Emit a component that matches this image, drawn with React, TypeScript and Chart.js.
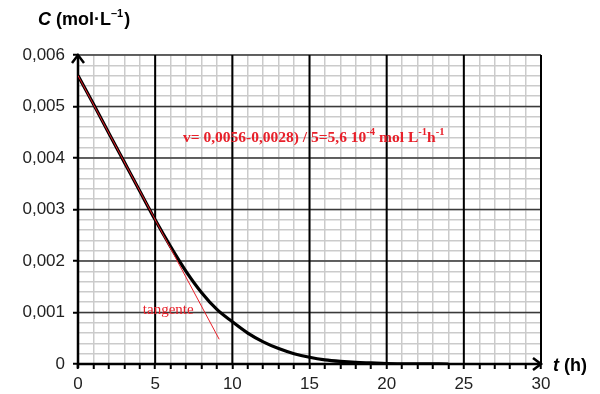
import React, { useEffect, useRef } from "react";
import { Chart, registerables } from "chart.js";

Chart.register(...registerables);

// Data
const times = [0, 1, 2, 3, 4, 5, 6, 7, 8, 9, 10, 11, 12, 13, 14, 15, 16, 17, 18, 19, 20, 22, 24];
const concentrations = [
  0.0056, 0.00505, 0.00448, 0.00392, 0.00336, 0.0028, 0.00228, 0.0018, 0.00139, 0.00106, 0.00082,
  0.0006, 0.00043, 0.0003, 0.0002, 0.00013, 0.00008, 0.00005, 0.00003, 0.00002, 0.00001, 0.000003, 0,
];
const tangentTimes = [0, 9.15];
const tangentValues = [0.0056, 0.00048];
const xTickLabels = ["0", "5", "10", "15", "20", "25", "30"];
const yTickLabels = ["0", "0,001", "0,002", "0,003", "0,004", "0,005", "0,006"];
const annotationText = "v= 0,0056-0,0028) / 5=5,6 10";
const tangentLabel = "tangente";

const RED = "#e8202a";
const SANS = "'Liberation Sans', Arial, sans-serif";
const SERIF = "'Liberation Serif', 'Times New Roman', serif";

const overlayPlugin = {
  id: "overlay",
  beforeDatasetsDraw(chart: any) {
    const { ctx, scales } = chart;
    const xs = scales.x;
    const ys = scales.y;
    const x0 = xs.getPixelForValue(0);
    const y0 = ys.getPixelForValue(0);
    const xEnd = xs.getPixelForValue(30);
    const yTop = ys.getPixelForValue(0.006);
    ctx.save();
    // major horizontal lines
    ctx.strokeStyle = "#3a3a3a";
    ctx.lineWidth = 1.5;
    ctx.beginPath();
    for (let k = 1; k <= 6; k++) {
      const y = ys.getPixelForValue(k * 0.001);
      ctx.moveTo(x0, y);
      ctx.lineTo(xEnd, y);
    }
    ctx.stroke();
    // major vertical lines
    ctx.strokeStyle = "#000";
    ctx.lineWidth = 2;
    ctx.beginPath();
    for (let k = 5; k <= 30; k += 5) {
      const x = xs.getPixelForValue(k);
      ctx.moveTo(x, y0);
      ctx.lineTo(x, yTop);
    }
    ctx.stroke();
    // axes
    ctx.strokeStyle = "#000";
    ctx.lineWidth = 2.5;
    ctx.lineCap = "butt";
    ctx.beginPath();
    ctx.moveTo(x0, y0);
    ctx.lineTo(xEnd, y0);
    ctx.moveTo(x0, y0 + 4);
    ctx.lineTo(x0, yTop);
    ctx.stroke();
    // arrows
    ctx.lineJoin = "miter";
    ctx.beginPath();
    ctx.moveTo(xEnd - 8, y0 - 6);
    ctx.lineTo(xEnd, y0);
    ctx.lineTo(xEnd - 8, y0 + 6);
    ctx.moveTo(x0 - 6, yTop + 8);
    ctx.lineTo(x0, yTop);
    ctx.lineTo(x0 + 6, yTop + 8);
    ctx.stroke();
    ctx.restore();
  },
  afterDraw(chart: any) {
    const { ctx, scales } = chart;
    ctx.save();
    // Y axis title
    ctx.fillStyle = "#000";
    ctx.textBaseline = "alphabetic";
    ctx.textAlign = "left";
    let x = 38;
    const yb = 25;
    ctx.font = `italic bold 18px ${SANS}`;
    ctx.fillText("C", x, yb);
    x += ctx.measureText("C").width + 5;
    ctx.font = `bold 18px ${SANS}`;
    ctx.fillText("(mol·L", x, yb);
    x += ctx.measureText("(mol·L").width;
    ctx.font = `bold 11px ${SANS}`;
    ctx.fillText("–1", x, yb - 8);
    x += ctx.measureText("–1").width + 1;
    ctx.font = `bold 18px ${SANS}`;
    ctx.fillText(")", x, yb);

    // X axis title
    let tx = 553;
    const tb = 371;
    ctx.font = `italic bold 18px ${SANS}`;
    ctx.fillText("t", tx, tb);
    tx += ctx.measureText("t").width + 5;
    ctx.font = `bold 18px ${SANS}`;
    ctx.fillText("(h)", tx, tb);

    // annotation
    ctx.fillStyle = RED;
    let ax = scales.x.getPixelForValue(6.8);
    const ab = scales.y.getPixelForValue(0.00432);
    ctx.font = `bold 15.5px ${SERIF}`;
    ctx.fillText(annotationText, ax, ab);
    ax += ctx.measureText(annotationText).width;
    ctx.font = `bold 10.5px ${SERIF}`;
    ctx.fillText("-4", ax, ab - 7);
    ax += ctx.measureText("-4").width + 4;
    ctx.font = `bold 15.5px ${SERIF}`;
    ctx.fillText("mol L", ax, ab);
    ax += ctx.measureText("mol L").width;
    ctx.font = `bold 10.5px ${SERIF}`;
    ctx.fillText("-1", ax, ab - 7);
    ax += ctx.measureText("-1").width;
    ctx.font = `bold 15.5px ${SERIF}`;
    ctx.fillText("h", ax, ab);
    ax += ctx.measureText("h").width;
    ctx.font = `bold 10.5px ${SERIF}`;
    ctx.fillText("-1", ax, ab - 7);

    // tangente label
    ctx.font = `15px ${SERIF}`;
    ctx.fillText(tangentLabel, scales.x.getPixelForValue(4.2), scales.y.getPixelForValue(0.00097));
    ctx.restore();
  },
};

export default function App() {
  const canvasRef = useRef<HTMLCanvasElement | null>(null);

  useEffect(() => {
    document.body.style.margin = "0";
    const canvas = canvasRef.current;
    if (!canvas) return;
    const chart = new Chart(canvas, {
      type: "line",
      data: {
        datasets: [
          {
            label: "tangente",
            data: tangentTimes.map((t, i) => ({ x: t, y: tangentValues[i] })),
            borderColor: RED,
            borderWidth: 1,
            pointRadius: 0,
            tension: 0,
            order: 0,
          },
          {
            label: "C",
            data: times.map((t, i) => ({ x: t, y: concentrations[i] })),
            borderColor: "#000",
            borderWidth: 3.2,
            pointRadius: 0,
            cubicInterpolationMode: "monotone",
            order: 1,
          },
        ],
      },
      options: {
        animation: false,
        responsive: false,
        maintainAspectRatio: false,
        layout: { padding: { top: 55, right: 59, left: 0, bottom: 0 } },
        plugins: { legend: { display: false }, tooltip: { enabled: false } },
        scales: {
          x: {
            type: "linear",
            min: 0,
            max: 30,
            afterFit: (s: any) => {
              s.height = 30;
            },
            border: { display: false },
            ticks: {
              stepSize: 1,
              autoSkip: false,
              maxRotation: 0,
              padding: 5,
              color: "#222",
              font: { family: SANS, size: 17 },
              callback: (v: any) => {
                const n = Math.round(Number(v));
                return n % 5 === 0 ? xTickLabels[n / 5] : "";
              },
            },
            grid: {
              drawTicks: true,
              tickLength: 5,
              tickColor: "#000",
              tickWidth: 2,
              color: "#cbcbcb",
              lineWidth: 1.5,
            },
          },
          y: {
            type: "linear",
            min: 0,
            max: 0.006,
            afterFit: (s: any) => {
              s.width = 78;
            },
            border: { display: false },
            ticks: {
              stepSize: 0.0002,
              autoSkip: false,
              padding: 8,
              color: "#222",
              font: { family: SANS, size: 17 },
              callback: (v: any) => {
                const k = Math.round(Number(v) / 0.0002);
                return k % 5 === 0 ? yTickLabels[k / 5] : "";
              },
            },
            grid: {
              drawTicks: true,
              tickLength: 5,
              tickWidth: 2,
              tickColor: (c: any) => {
                const k = Math.round((c.tick?.value ?? 0) / 0.0002);
                return k % 5 === 0 ? "#000" : "rgba(0,0,0,0)";
              },
              color: "#cbcbcb",
              lineWidth: 1.5,
            },
          },
        },
      },
      plugins: [overlayPlugin],
    } as any);
    return () => chart.destroy();
  }, []);

  return (
    <div style={{ position: "absolute", left: 0, top: 0, width: 600, height: 394, background: "#fff" }}>
      <canvas ref={canvasRef} width={600} height={394} style={{ width: 600, height: 394 }} />
    </div>
  );
}
